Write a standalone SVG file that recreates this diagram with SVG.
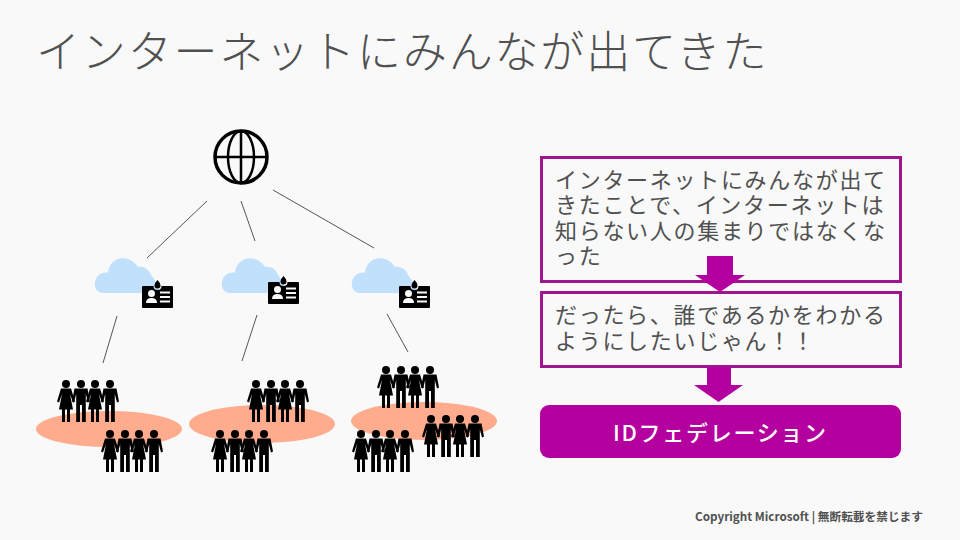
<svg xmlns="http://www.w3.org/2000/svg" width="960" height="540" viewBox="0 0 960 540">
<style>
text{font-family:"Noto Sans CJK JP","Noto Sans",sans-serif}
.t{font-size:22px;letter-spacing:1.7px;fill:#505050}
.title{font-size:44px;letter-spacing:1.85px;fill:#505050;font-weight:300}
.box{fill:none;stroke:#a0148e;stroke-width:3}
.arr{fill:#b4009e}
.ell{fill:#ffac8e}
.cl{fill:#c0e0fb}
.ln{stroke:#555;stroke-width:1;fill:none}
</style>
<defs>
<g id="m"><circle cx="0" cy="0" r="4"/><path d="M-6.500 4.500H6.500L9 17.500 7 18.500 4.800 10V38H1V21H-1V38H-4.800V10L-7 18.500-9 17.500Z"/></g>
<g id="w"><circle cx="0" cy="0" r="4"/><path d="M-5 4.500H5L9 17.500 7 18.500 4 10 7 25.500H4V38H1V25.500H-1V38H-4V25.500H-7L-4 10-7 18.500-9 17.500Z"/></g>
<g id="p"><use href="#w"/><use href="#m" x="15"/><use href="#w" x="29"/><use href="#m" x="44"/></g>
<path id="c" class="cl" d="M8 35C-2 35-3 20 6 15.500 8 14.500 11 14.500 13 14.500 14 4 23 -2 33 1 38 2.500 41 6 43 9 50 8 54 12 56 17 60 21 62 28 66 35Z"/>
<g id="card"><path d="M1.500 3H11.500A4 4 0 0 0 19.500 3H30a1 1 0 0 1 1 1V24a1 1 0 0 1-1 1H1a1 1 0 0 1-1-1V4a1 1 0 0 1 1-1Z"/><path d="M15.500 -3Q18.500 0 18.500 2.500A3 3 0 0 1 12.500 2.500Q12.500 0 15.500 -3Z"/><circle cx="9.500" cy="10.500" r="3.500" fill="#f9f9f9"/><path d="M4 20Q4 15 9.500 15 15 15 15 20Z" fill="#f9f9f9"/><path d="M18 9.500H28M18 14H28M18 18.500H28" stroke="#f9f9f9" stroke-width="2"/></g>
</defs>
<rect width="960" height="540" fill="#f9f9f9"/>
<text id="title" class="title" x="36" y="68">インターネットにみんなが出てきた</text>
<g id="connectors">
<path class="ln" d="M207 201L147 258M241 201L255 241M273 190L374 248M117 316L103 363M257 315L242 361M387 314L408 352"/>
</g>
<g id="globe" fill="none" stroke="#000" stroke-width="3.500"><circle cx="241" cy="157" r="26"/><ellipse cx="241" cy="157" rx="13" ry="26" stroke-width="2.500"/><path d="M241 131V183M215 157H267" stroke-width="2.500"/></g>
<g id="cloud1"><use href="#c" x="95" y="258"/><use href="#card" x="142" y="283"/></g>
<g id="cloud2"><use href="#c" x="222" y="258"/><use href="#card" x="268" y="279"/></g>
<g id="cloud3"><use href="#c" x="352" y="258"/><use href="#card" x="399" y="283"/></g>
<g id="people1"><ellipse class="ell" cx="109" cy="429" rx="73" ry="18"/><use href="#p" x="66" y="384"/><use href="#p" x="110" y="434"/></g>
<g id="people2"><ellipse class="ell" cx="262" cy="424" rx="73" ry="19"/><use href="#p" x="256" y="384"/><use href="#p" x="220" y="434"/></g>
<g id="people3"><ellipse class="ell" cx="424" cy="421" rx="73" ry="19"/><use href="#p" x="386" y="370"/><use href="#p" x="431" y="419"/><use href="#p" x="361" y="434"/></g>
<g id="box1"><rect class="box" x="541.500" y="157.500" width="359" height="124"/>
<text class="t" x="555" y="188">インターネットにみんなが出て<tspan x="555" y="213">きたことで、インターネットは</tspan><tspan x="555" y="239">知らない人の集まりではなくな</tspan><tspan x="555" y="264">った</tspan></text></g>
<g id="arrow1"><path class="arr" d="M707 256H733V275H745L720 292 695 275H707Z"/></g>
<g id="box2"><rect class="box" x="541.500" y="292.500" width="359" height="74"/>
<text class="t" x="555" y="323">だったら、誰であるかをわかる<tspan x="555" y="349">ようにしたいじゃん！！</tspan></text></g>
<g id="arrow2"><path class="arr" d="M707 367H731V385H743L718.500 402 694 385H707Z"/></g>
<g id="pill"><rect x="540" y="405" width="361" height="53" rx="9" fill="#b4009e"/>
<text x="613" y="441" font-size="22" letter-spacing="1.7" fill="#fff" font-weight="500">IDフェデレーション</text></g>
<text id="copyright" x="695" y="521" font-size="11.700" font-weight="700" fill="#505050">Copyright Microsoft | 無断転載を禁じます</text>
</svg>
